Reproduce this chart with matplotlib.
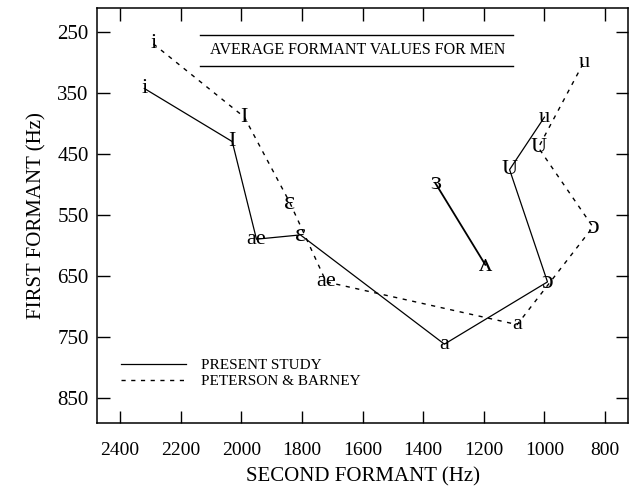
import matplotlib
matplotlib.use("Agg")
import matplotlib.pyplot as plt

# present study (solid)
ps_labels = ["i", "I", "ae", "ɛ", "a", "ɔ", "U", "u"]
ps_f2 = [2320, 2030, 1950, 1805, 1330, 990, 1115, 1000]
ps_f1 = [343, 430, 590, 583, 762, 660, 476, 390]

# central vowels (solid)
er_labels = ["ɜ", "ʌ"]
er_f2 = [1360, 1195]
er_f1 = [498, 632]

# Peterson & Barney (dashed)
pb_labels = ["i", "I", "ɛ", "ae", "a", "ɔ", "U", "u"]
pb_f2 = [2290, 1990, 1840, 1720, 1090, 840, 1020, 870]
pb_f1 = [270, 390, 530, 660, 730, 570, 440, 300]

x_ticks = [2400, 2200, 2000, 1800, 1600, 1400, 1200, 1000, 800]
y_ticks = [250, 350, 450, 550, 650, 750, 850]

serif = ["Liberation Serif", "DejaVu Serif"]
plt.rcParams["font.family"] = serif

fig = plt.figure(figsize=(6.3, 4.94), dpi=100)
ax = fig.add_axes([0.154, 0.144, 0.843, 0.840])

ax.plot(ps_f2, ps_f1, color="black", lw=0.9, label="PRESENT STUDY")
ax.plot(er_f2, er_f1, color="black", lw=1.3)
ax.plot(pb_f2, pb_f1, color="black", lw=1.0, dashes=(3, 4),
        label="PETERSON & BARNEY")

# open vowels symbols are drawn a bit larger, as in the scan
big = {"ɛ", "ɜ", "ʌ", "ɔ"}
for lab, x, y in zip(ps_labels + pb_labels + er_labels,
                     ps_f2 + pb_f2 + er_f2, ps_f1 + pb_f1 + er_f1):
    ax.text(x, y, lab, ha="center", va="center",
            fontsize=19 if lab in big else 16)

ax.set_xlim(2476, 724)
ax.set_ylim(891, 211)
ax.set_xticks(x_ticks)
ax.set_xticklabels([str(v) for v in x_ticks])
ax.set_yticks(y_ticks)
ax.set_yticklabels([str(v) for v in y_ticks])
ax.tick_params(axis="both", direction="in", length=9, width=1.0,
               top=True, right=True)
ax.tick_params(axis="x", labelsize=14, pad=14)
ax.tick_params(axis="y", labelsize=15, pad=6)
for sp in ax.spines.values():
    sp.set_linewidth(1.1)

ax.set_xlabel("SECOND FORMANT (Hz)", fontsize=15, labelpad=6)
ax.set_ylabel("FIRST FORMANT (Hz)", fontsize=15, labelpad=8)

# title between two rules
ax.plot([0.194, 0.783], [0.935, 0.935], color="black", lw=1.0,
        transform=ax.transAxes)
ax.plot([0.194, 0.783], [0.860, 0.860], color="black", lw=1.0,
        transform=ax.transAxes)
ax.text(0.49, 0.898, "AVERAGE FORMANT VALUES FOR MEN", transform=ax.transAxes,
        ha="center", va="center", fontsize=11.5)

ax.legend(loc="lower left", bbox_to_anchor=(0.02, 0.05), frameon=False,
          fontsize=11, handlelength=4.2, labelspacing=0.15, handletextpad=1.0)

fig.savefig("out.png", dpi=100)
